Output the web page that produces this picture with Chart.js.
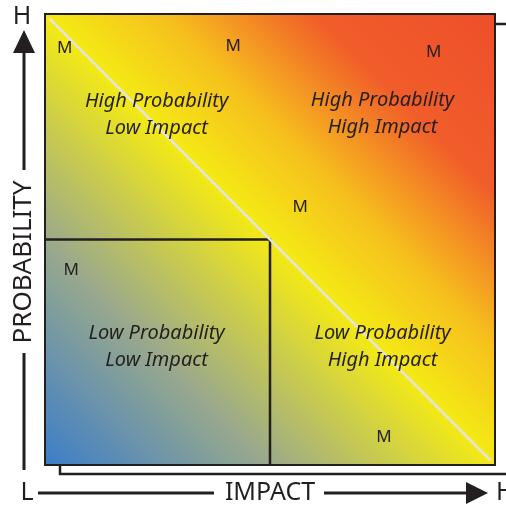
<!DOCTYPE html>
<html>
<head>
<meta charset="utf-8">
<script src="https://cdn.jsdelivr.net/npm/chart.js@4/dist/chart.umd.min.js"></script>
<style>
  html, body { margin: 0; padding: 0; background: #fff; }
  #wrap { width: 506px; height: 511px; }
</style>
</head>
<body>
<div id="wrap"><canvas id="riskChart"></canvas></div>
<script>
  'use strict';

  // "M" markers (impact, probability) on a 0-10 scale
  var markX = [0.44, 4.18, 8.64, 5.67, 0.58, 7.53];
  var markY = [9.24, 9.29, 9.16, 5.71, 4.31, 0.62];
  var markText = ['M', 'M', 'M', 'M', 'M', 'M'];

  // quadrant captions
  var quadLines = [
    ['High Probability', 'Low Impact'],
    ['High Probability', 'High Impact'],
    ['Low Probability', 'Low Impact'],
    ['Low Probability', 'High Impact']
  ];
  var quadX = [2.48, 7.5, 2.48, 7.5];
  var quadY = [7.75, 7.77, 2.6, 2.62];

  // diagonal and low/low box
  var diagX = [0.1, 9.9];
  var diagY = [9.9, 0.1];
  var boxX = [0, 5, 5];
  var boxY = [5, 5, 0];

  var axisTitles = { x: 'IMPACT', y: 'PROBABILITY', low: 'L', high: 'H' };

  function toPoints(xs, ys) {
    return xs.map(function(x, i) { return { x: x, y: ys[i] }; });
  }

  var ink = '#231f20';

  var backgroundPlugin = {
    id: 'riskBackground',
    beforeDatasetsDraw: function(chart) {
      var ctx = chart.ctx, a = chart.chartArea;
      ctx.save();
      // offset frame behind the grid
      ctx.strokeStyle = ink;
      ctx.lineWidth = 2.5;
      ctx.strokeRect(a.left + 15, a.top + 10, a.right - a.left, a.bottom - a.top - 1);
      ctx.fillStyle = '#fff';
      ctx.fillRect(a.left, a.top, a.right - a.left, a.bottom - a.top);

      var g = ctx.createLinearGradient(a.left, a.bottom, a.right, a.top);
      g.addColorStop(0, '#3b7dca');
      g.addColorStop(0.25, '#9aa98c');
      g.addColorStop(0.5, '#f4ea15');
      g.addColorStop(0.63, '#f6c01d');
      g.addColorStop(0.8, '#f15d2a');
      g.addColorStop(1, '#ee4f2a');
      ctx.fillStyle = g;
      ctx.fillRect(a.left, a.top, a.right - a.left, a.bottom - a.top);
      ctx.restore();
    },
    afterDatasetsDraw: function(chart) {
      var ctx = chart.ctx, a = chart.chartArea;
      var xs = chart.scales.x, ys = chart.scales.y;
      ctx.save();
      ctx.strokeStyle = ink;
      ctx.lineWidth = 2;
      ctx.strokeRect(a.left, a.top, a.right - a.left, a.bottom - a.top);

      ctx.fillStyle = ink;
      ctx.textAlign = 'center';
      ctx.textBaseline = 'middle';
      ctx.font = '17px "Noto Sans"';
      markX.forEach(function(x, i) {
        ctx.fillText(markText[i], xs.getPixelForValue(x), ys.getPixelForValue(markY[i]));
      });

      ctx.font = 'italic 20px "Noto Sans"';
      quadLines.forEach(function(lines, i) {
        var cx = xs.getPixelForValue(quadX[i]);
        var cy = ys.getPixelForValue(quadY[i]);
        ctx.fillText(lines[0], cx, cy - 14);
        ctx.fillText(lines[1], cx, cy + 13);
      });

      // axis arrows and titles
      ctx.lineWidth = 3;
      var ax = a.left - 21, ay = a.bottom + 28;
      ctx.beginPath();
      ctx.moveTo(ax, 50); ctx.lineTo(ax, 170);
      ctx.moveTo(ax, 353); ctx.lineTo(ax, 470);
      ctx.moveTo(a.left - 7, ay); ctx.lineTo(214, ay);
      ctx.moveTo(324, ay); ctx.lineTo(470, ay);
      ctx.stroke();
      ctx.beginPath();
      ctx.moveTo(ax, 30); ctx.lineTo(ax - 11, 53); ctx.lineTo(ax + 11, 53); ctx.closePath();
      ctx.moveTo(488, ay); ctx.lineTo(466, ay - 11); ctx.lineTo(466, ay + 11); ctx.closePath();
      ctx.fill();

      ctx.font = '25px "Noto Sans"';
      ctx.fillText(axisTitles.x, 270, ay);
      ctx.fillText(axisTitles.high, ax - 2, 17);
      ctx.fillText(axisTitles.low, ax + 3, ay);
      ctx.textAlign = 'left';
      ctx.fillText(axisTitles.high, 496, ay);
      ctx.translate(ax, 262);
      ctx.rotate(-Math.PI / 2);
      ctx.textAlign = 'center';
      ctx.font = '26px "Noto Sans"';
      ctx.fillText(axisTitles.y, 0, 0);
      ctx.restore();
    }
  };

  new Chart(document.getElementById('riskChart').getContext('2d'), {
    type: 'scatter',
    data: {
      datasets: [{
        data: toPoints(diagX, diagY),
        showLine: true,
        borderColor: '#e4e4e4',
        borderWidth: 2.5,
        pointRadius: 0
      }, {
        data: toPoints(boxX, boxY),
        showLine: true,
        borderColor: ink,
        borderWidth: 2.5,
        pointRadius: 0
      }]
    },
    options: {
      responsive: true,
      maintainAspectRatio: false,
      animation: false,
      layout: { padding: { left: 45, top: 14, right: 11, bottom: 46 } },
      plugins: { legend: { display: false }, tooltip: { enabled: false } },
      scales: {
        x: { display: false, min: 0, max: 10 },
        y: { display: false, min: 0, max: 10 }
      }
    },
    plugins: [backgroundPlugin]
  });
</script>
</body>
</html>
